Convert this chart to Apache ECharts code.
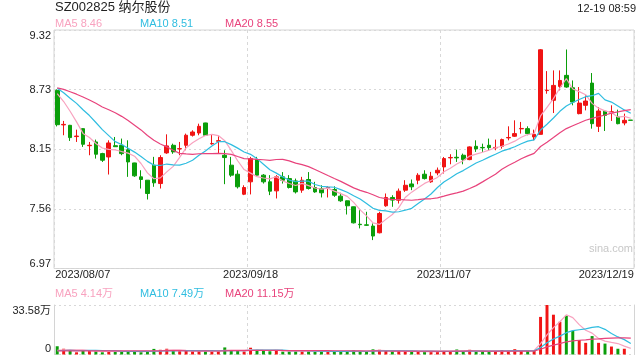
<!DOCTYPE html>
<html><head><meta charset="utf-8">
<script src="https://cdn.jsdelivr.net/npm/echarts@6/dist/echarts.min.js"></script>
<style>html,body{margin:0;padding:0;background:#fff}#c{width:640px;height:360px}</style>
</head><body><div id="c"></div>
<script>
const dates = [
'2023/08/07','2023/08/08','2023/08/09','2023/08/10','2023/08/11','2023/08/14','2023/08/15','2023/08/16','2023/08/17','2023/08/18',
'2023/08/21','2023/08/22','2023/08/23','2023/08/24','2023/08/25','2023/08/28','2023/08/29','2023/08/30','2023/08/31','2023/09/01',
'2023/09/04','2023/09/05','2023/09/06','2023/09/07','2023/09/08','2023/09/11','2023/09/12','2023/09/13','2023/09/14','2023/09/15',
'2023/09/18','2023/09/19','2023/09/20','2023/09/21','2023/09/22','2023/09/25','2023/09/26','2023/09/27','2023/09/28','2023/10/09',
'2023/10/10','2023/10/11','2023/10/12','2023/10/13','2023/10/16','2023/10/17','2023/10/18','2023/10/19','2023/10/20','2023/10/23',
'2023/10/24','2023/10/25','2023/10/26','2023/10/27','2023/10/30','2023/10/31','2023/11/01','2023/11/02','2023/11/03','2023/11/06',
'2023/11/07','2023/11/08','2023/11/09','2023/11/10','2023/11/13','2023/11/14','2023/11/15','2023/11/16','2023/11/17','2023/11/20',
'2023/11/21','2023/11/22','2023/11/23','2023/11/24','2023/11/27','2023/11/28','2023/11/29','2023/11/30','2023/12/01','2023/12/04',
'2023/12/05','2023/12/06','2023/12/07','2023/12/08','2023/12/11','2023/12/12','2023/12/13','2023/12/14','2023/12/15','2023/12/19'];

const opens = [8.725,8.385,8.381,8.270,8.348,8.180,8.217,8.102,8.069,8.180,
8.184,8.140,8.010,7.873,7.840,7.988,7.807,8.109,8.184,8.148,
8.184,8.283,8.305,8.404,8.198,8.224,8.086,7.988,7.899,7.702,
7.824,8.043,7.890,7.824,7.735,7.873,7.856,7.833,7.742,7.847,
7.768,7.758,7.765,7.748,7.683,7.637,7.578,7.406,7.400,7.388,
7.322,7.588,7.670,7.643,7.742,7.803,7.840,7.899,7.824,7.912,
7.971,8.060,8.066,8.086,8.043,8.174,8.163,8.184,8.159,8.174,
8.257,8.273,8.346,8.348,8.266,8.292,8.723,8.627,8.764,8.873,
8.751,8.496,8.578,8.797,8.371,8.519,8.510,8.463,8.404,8.432];
const closes = [8.387,8.390,8.260,8.275,8.194,8.184,8.096,8.037,8.207,8.170,
8.102,8.020,7.883,7.847,7.709,7.814,8.063,8.178,8.119,8.151,
8.283,8.315,8.371,8.283,8.202,8.229,8.063,7.890,7.775,7.768,
8.053,7.890,7.824,7.732,7.873,7.840,7.768,7.725,7.840,7.758,
7.725,7.716,7.769,7.692,7.637,7.588,7.420,7.402,7.396,7.290,
7.512,7.670,7.644,7.732,7.790,7.775,7.889,7.856,7.879,7.938,
8.053,8.064,8.060,8.043,8.168,8.148,8.159,8.161,8.163,8.240,
8.261,8.299,8.350,8.299,8.292,9.125,8.727,8.774,8.823,8.758,
8.610,8.600,8.620,8.397,8.522,8.479,8.514,8.397,8.430,8.430];
const lows = [8.370,8.283,8.227,8.217,8.168,8.086,8.053,8.020,7.896,8.168,
8.086,7.873,7.873,7.758,7.650,7.775,7.758,8.100,8.100,8.086,
8.135,8.270,8.283,8.280,8.190,8.102,7.801,7.873,7.758,7.693,
7.700,7.873,7.807,7.693,7.660,7.807,7.758,7.709,7.716,7.748,
7.716,7.670,7.670,7.676,7.627,7.502,7.414,7.365,7.390,7.250,
7.316,7.578,7.578,7.610,7.725,7.742,7.800,7.847,7.814,7.889,
7.906,7.997,8.020,7.997,8.037,8.119,8.119,8.135,8.135,8.151,
8.233,8.266,8.299,8.283,8.233,8.290,8.692,8.502,8.725,8.751,
8.578,8.489,8.528,8.348,8.315,8.325,8.424,8.391,8.381,8.430];
const highs = [8.735,8.424,8.385,8.338,8.352,8.217,8.240,8.110,8.233,8.266,
8.250,8.233,8.012,7.938,7.842,8.070,8.086,8.292,8.200,8.217,
8.299,8.332,8.397,8.406,8.292,8.273,8.135,8.070,7.938,7.790,
8.070,8.070,7.900,7.890,7.890,7.920,7.890,7.856,7.873,7.920,
7.824,7.790,7.780,7.780,7.716,7.640,7.580,7.545,7.529,7.414,
7.529,7.709,7.692,7.758,7.840,7.847,7.909,7.938,7.922,7.965,
8.069,8.096,8.142,8.102,8.174,8.233,8.200,8.250,8.240,8.250,
8.371,8.430,8.414,8.371,8.338,9.132,8.915,8.922,8.922,9.128,
8.823,8.758,8.676,8.896,8.561,8.528,8.578,8.535,8.496,8.432];
// volume in 万
const volumes = [5.6,3.9,2.6,1.5,2.4,2.6,2.4,1.5,2.5,1.8,
2.0,2.4,1.9,1.6,2.2,3.8,3.2,3.9,2.4,2.2,
2.5,2.0,2.4,2.3,2.0,2.6,4.8,2.9,2.6,2.0,
4.6,3.2,2.4,2.2,2.6,2.0,2.1,2.4,2.2,2.5,
1.8,2.2,1.9,2.0,2.2,2.3,2.9,2.2,2.1,3.5,
3.2,2.6,2.0,2.3,2.2,1.8,2.0,1.7,2.1,1.9,
2.4,2.2,3.4,2.1,3.2,2.0,1.8,1.9,2.3,2.95,
2.5,3.6,2.3,2.3,2.9,25.5,33.58,27.0,22.2,26.3,
16.0,9.8,7.9,12.5,7.9,7.4,5.4,3.9,3.9,0];
// closes / volumes of the days before the window (estimated from where the MA lines start)
const priorCloses = [8.70,8.72,8.76,8.74,8.78,8.75,8.77,8.76,8.74,8.82,8.84,8.80,8.78,8.82,8.76,8.78,8.74,8.80,8.76];
const priorVolumes = [2.4,2.1,2.6,2.0,2.3,2.2,1.9,2.5,2.4,2.1,2.3,2.0,2.6,2.2,2.1,2.4,2.0,2.3,2.2];

const yTickLabels = ['6.97','7.56','8.15','8.73','9.32'];
const volTickLabels = ['0','33.58万'];
const xTickIndex = [0, 30, 60, 89];
const maPeriods = [5, 10, 20];
const priceMALegend = ['MA5 8.46', 'MA10 8.51', 'MA20 8.55'];
const volMALegend = ['MA5 4.14万', 'MA10 7.49万', 'MA20 11.15万'];
const titleText = 'SZ002825 纳尔股份';
const timeText = '12-19 08:59';

const UP = '#f01414', DOWN = '#0a9e0a';
const MA_COLORS = ['#f8a2bf', '#2fbde0', '#e8437c'];
const FONT = '"Liberation Sans", Arial, "Noto Sans CJK SC", sans-serif';
const yMin = 6.97, yMax = 9.32, yInterval = (yMax - yMin) / 4;
const vMax = 33.58;

function movingAvg(values, prior, n) {
  const all = prior.concat(values);
  return values.map((_, i) => {
    const end = prior.length + i;
    if (end - n + 1 < 0) return '-';
    let s = 0;
    for (let k = end - n + 1; k <= end; k++) s += all[k];
    return +(s / n).toFixed(4);
  });
}

const candleData = dates.map((d, i) => [opens[i], closes[i], lows[i], highs[i]]);
const volData = volumes.map((v, i) => ({ value: v, itemStyle: { color: closes[i] >= opens[i] ? UP : DOWN } }));

const legendTitles = [];
const legendLefts = [55, 140, 225];
priceMALegend.forEach((t, k) => legendTitles.push({ text: t, left: legendLefts[k], top: 18, padding: 0,
  textStyle: { fontSize: 11, fontWeight: 'normal', color: MA_COLORS[k], fontFamily: FONT } }));
volMALegend.forEach((t, k) => legendTitles.push({ text: t, left: legendLefts[k], top: 288, padding: 0,
  textStyle: { fontSize: 11, fontWeight: 'normal', color: MA_COLORS[k], fontFamily: FONT } }));

const lblStyle = { fontSize: 11, color: '#222', fontFamily: FONT };

const chart = echarts.init(document.getElementById('c'));
chart.setOption({
  animation: false,
  textStyle: { fontFamily: FONT },
  title: [
    { text: titleText, left: 55, top: 1, padding: 0, textStyle: { fontSize: 13, fontWeight: 'normal', color: '#222', fontFamily: FONT } },
    { text: timeText, right: 4, top: 3, padding: 0, textStyle: { fontSize: 11, fontWeight: 'normal', color: '#222', fontFamily: FONT } }
  ].concat(legendTitles),
  graphic: [{ type: 'text', right: 7, top: 243, silent: true,
    style: { text: 'sina.com', fill: '#c8c8c8', font: '11px ' + FONT } }],
  grid: [
    { left: 54, right: 6, top: 30, height: 238.5, show: true, borderColor: '#d4d4d4', borderWidth: 1 },
    { left: 54, right: 6, top: 305, height: 49.5 }
  ],
  xAxis: [
    { type: 'category', gridIndex: 0, data: dates, boundaryGap: true,
      axisLine: { show: false }, axisTick: { show: false },
      axisLabel: Object.assign({}, lblStyle, {
        margin: 1,
        interval: (i) => xTickIndex.indexOf(i) >= 0,
        formatter: (v, i) => i === xTickIndex[0] ? '{l|' + v + '}' : (i === xTickIndex[3] ? '{r|' + v + '}' : v),
        rich: { l: Object.assign({ padding: [0, 0, 0, 51] }, lblStyle), r: Object.assign({ padding: [0, 49, 0, 0] }, lblStyle) }
      }),
      splitLine: { show: true, interval: 29, lineStyle: { color: '#d8d8d8', type: [3, 3], width: 1 } } },
    { type: 'category', gridIndex: 1, data: dates, boundaryGap: true,
      axisLine: { show: false }, axisTick: { show: false }, axisLabel: { show: false },
      splitLine: { show: true, interval: 29, lineStyle: { color: '#d8d8d8', type: [3, 3], width: 1 } } }
  ],
  yAxis: [
    { type: 'value', gridIndex: 0, min: yMin, max: yMax, interval: yInterval,
      axisLine: { show: false }, axisTick: { show: false },
      axisLabel: Object.assign({}, lblStyle, {
        margin: 3,
        formatter: (v) => {
          const k = Math.round((v - yMin) / yInterval);
          if (k === 0) return '{b|' + yTickLabels[k] + '}';
          if (k === 4) return '{t|' + yTickLabels[k] + '}';
          return yTickLabels[k];
        },
        rich: { t: Object.assign({ padding: [12, 0, 0, 0] }, lblStyle), b: Object.assign({ padding: [0, 0, 10, 0] }, lblStyle) }
      }),
      splitLine: { show: true, lineStyle: { color: '#d8d8d8', type: [2, 3], width: 1 } } },
    { type: 'value', gridIndex: 1, min: 0, max: vMax, interval: vMax,
      axisLine: { show: true, lineStyle: { color: '#d4d4d4' } }, axisTick: { show: false },
      axisLabel: Object.assign({}, lblStyle, {
        margin: 3,
        formatter: (v) => v === 0 ? '{b|' + volTickLabels[0] + '}' : '{t|' + volTickLabels[1] + '}',
        rich: { t: Object.assign({ padding: [11, 0, 0, 0] }, lblStyle), b: Object.assign({ padding: [0, 0, 12, 0] }, lblStyle) }
      }),
      splitLine: { show: true, lineStyle: { color: '#d8d8d8', type: [2, 3], width: 1 } } },
    { type: 'value', gridIndex: 1, min: 0, max: vMax, interval: vMax, position: 'right',
      axisLine: { show: true, lineStyle: { color: '#d4d4d4' } }, axisTick: { show: false },
      axisLabel: { show: false }, splitLine: { show: false } }
  ],
  series: [
    { type: 'candlestick', xAxisIndex: 0, yAxisIndex: 0, data: candleData, barWidth: '66%',
      itemStyle: { color: UP, color0: DOWN, borderColor: UP, borderColor0: DOWN, borderWidth: 1 } }
  ].concat(maPeriods.map((n, k) => ({
    type: 'line', xAxisIndex: 0, yAxisIndex: 0, data: movingAvg(closes, priorCloses, n),
    showSymbol: false, smooth: false, z: 5, lineStyle: { color: MA_COLORS[k], width: 1.2 }, itemStyle: { color: MA_COLORS[k] }
  }))).concat([
    { type: 'bar', xAxisIndex: 1, yAxisIndex: 1, data: volData, barWidth: '46%' }
  ]).concat(maPeriods.map((n, k) => ({
    type: 'line', xAxisIndex: 1, yAxisIndex: 1, data: movingAvg(volumes, priorVolumes, n),
    showSymbol: false, smooth: false, z: 5, lineStyle: { color: MA_COLORS[k], width: 1.2 }, itemStyle: { color: MA_COLORS[k] }
  })))
});
</script></body></html>
